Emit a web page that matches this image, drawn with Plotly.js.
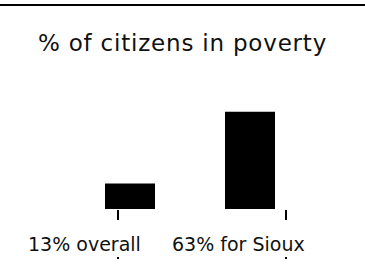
<!DOCTYPE html>
<html>
<head>
<meta charset="utf-8">
<script src="https://cdn.plot.ly/plotly-3.0.1.min.js"></script>
<style>
  html, body { margin: 0; padding: 0; background: #fff; }
  #chart { width: 365px; height: 266px; }
  .gtitle { letter-spacing: 0.8px; }
</style>
</head>
<body>
<div id="chart"></div>
<script>
// Data
const categories = ['13% overall', '63% for Sioux'];
const values = [13, 63];
const title = '% of citizens in poverty';
const tickPositions = [-0.1, 1.3];

const xRange = [-130 / 120, 235 / 120];
const FONT = 'DejaVu Sans, sans-serif';

const trace = {
  type: 'bar',
  x: categories.map((c, i) => i),
  y: values,
  width: 50 / 120,
  marker: { color: '#000', line: { width: 0 } },
  hoverinfo: 'skip',
  xaxis: 'x',
  yaxis: 'y'
};

const layout = {
  width: 365,
  height: 266,
  margin: { l: 0, r: 0, t: 0, b: 10, pad: 0 },
  paper_bgcolor: '#fff',
  plot_bgcolor: 'rgba(0,0,0,0)',
  showlegend: false,
  title: {
    text: title,
    font: { family: FONT, size: 23, color: '#111' },
    x: 0.5, xanchor: 'center',
    y: 1 - 42.5 / 266, yanchor: 'middle'
  },
  xaxis: {
    type: 'linear', range: xRange, fixedrange: true,
    showgrid: false, zeroline: false, showline: false,
    ticks: 'outside', ticklen: 10, tickwidth: 2, tickcolor: '#000',
    tickmode: 'array', tickvals: tickPositions, showticklabels: false,
    anchor: 'y'
  },
  xaxis3: {
    type: 'linear', range: xRange, overlaying: 'x', anchor: 'free', position: 0,
    showgrid: false, zeroline: false, showline: false,
    ticks: 'outside', ticklen: 2, tickwidth: 2, tickcolor: '#000',
    tickmode: 'array', tickvals: tickPositions, showticklabels: false
  },
  yaxis: {
    type: 'log', range: [0.8712, 2.8655], domain: [47 / 256, 1],
    showgrid: false, zeroline: false, showline: false,
    ticks: '', showticklabels: false, fixedrange: true
  },
  shapes: [{
    type: 'line', xref: 'paper', yref: 'paper',
    x0: 0, x1: 1, y0: 1 - 5 / 256, y1: 1 - 5 / 256,
    line: { color: '#000', width: 2 }
  }],
  annotations: [
    { text: categories[0], xref: 'paper', yref: 'paper', x: 84.5 / 365, y: 1 - 244 / 256,
      xanchor: 'center', yanchor: 'middle', showarrow: false,
      font: { family: FONT, size: 19, color: '#111' } },
    { text: categories[1], xref: 'paper', yref: 'paper', x: 238 / 365, y: 1 - 244 / 256,
      xanchor: 'center', yanchor: 'middle', showarrow: false,
      font: { family: FONT, size: 19, color: '#111' } }
  ]
};

// empty trace so the extra tick axis (x3) is drawn
const dummy = { type: 'scatter', x: [], y: [], xaxis: 'x3', yaxis: 'y', hoverinfo: 'skip' };

Plotly.newPlot('chart', [trace, dummy], layout, { displayModeBar: false, staticPlot: true });
</script>
</body>
</html>
